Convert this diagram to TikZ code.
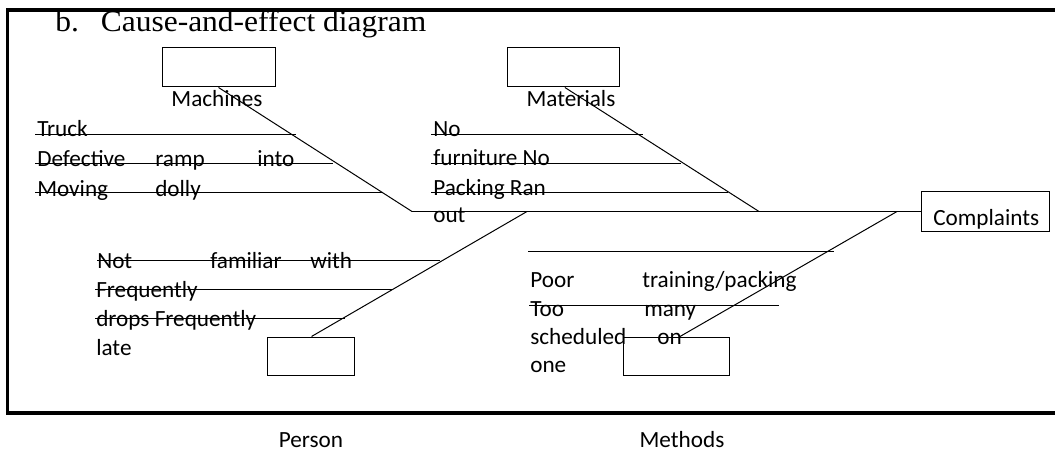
\documentclass[tikz,border=0pt]{standalone}
\usepackage{fontspec}
\setmainfont{Carlito}
\newfontfamily\titlefont{Liberation Serif}
\usetikzlibrary{calc}
\begin{document}
\begin{tikzpicture}[x=0.75pt,y=-0.75pt,
  thinline/.style={line width=0.75pt},
  box/.style={draw, line width=0.75pt, inner sep=0pt},
  word/.style={anchor=base west, inner sep=0pt, font=\fontsize{17.4}{20}\selectfont},
  catname/.style={anchor=base, inner sep=0pt, font=\fontsize{17.4}{20}\selectfont},
  titletext/.style={anchor=base west, inner sep=0pt, transform shape, xscale=1.05,
    font=\titlefont\fontsize{22.5}{27}\selectfont},
  outerframe/.style={line width=2.8pt}]
\useasboundingbox (0,0) rectangle (1055,452);

% heading, cut off along the top of the frame
\begin{scope}
  \clip (0,10.2) rectangle (1055,60);
  \node (tb) [titletext] at (55,31.5) {b.};
  \node (tt) [titletext] at (100.5,31.5) {Cause-and-effect diagram};
\end{scope}

% surrounding frame (open on the right)
\draw[outerframe] (1058,10.2) -- (7.5,10.2) -- (7.5,413.3) -- (1058,413.3);

% category boxes and the effect box
\node (mbox)   [box, minimum width=84.75pt, minimum height=29.25pt] at (218.5,67.5) {};
\node (matbox) [box, minimum width=83.5pt,  minimum height=29.25pt] at (563.4,67.5) {};
\node (pbox)   [box, minimum width=65.25pt, minimum height=28.5pt]  at (310.5,356) {};
\node (metbox) [box, minimum width=79.5pt,  minimum height=28.5pt]  at (676,356) {};
\node (cbox)   [box, minimum width=95.5pt,  minimum height=29.25pt] at (985.4,211.5) {};

% category names
\node (mlab)   [catname] at (217,107) {Machines};
\node (matlab) [catname] at (571,107) {Materials};
\node (plab)   [catname] at (311,447.5) {Person};
\node (metlab) [catname] at (682,447.5) {Methods};
\node (clab)   [word] at (933,225) {Complaints};

% spine and bones
\coordinate (jm)   at (412,211.5);
\coordinate (jmat) at (759,211.5);
\coordinate (jp)   at (527,211.5);
\coordinate (jmet) at (897,211.5);
\draw[thinline] (jm) -- (cbox.west);
\draw[thinline] (mbox.south) -- (jm);
\draw[thinline] ($(matbox.south)+(1.5,0)$) -- (jmat);
\draw[thinline] ($(pbox.north)+(1,0)$) -- (jp);
\draw[thinline] ($(metbox.north)+(4,0)$) -- (jmet);

% machine causes
\draw[thinline] (35,134.5) -- (296,134.5);
\draw[thinline] (35,163.5) -- (333,163.5);
\draw[thinline] (35,192.5) -- (383,192.5);
\node (m1)  [word] at (37,137) {Truck};
\node (m2a) [word] at (37,167) {Defective};
\node (m2b) [word] at (155,167) {ramp};
\node (m2c) [word] at (257,167) {into};
\node (m3a) [word] at (37,196.5) {Moving};
\node (m3b) [word] at (155,196.5) {dolly};

% material causes
\draw[thinline] (431,134.5) -- (643,134.5);
\draw[thinline] (431,163.5) -- (681,163.5);
\draw[thinline] (431,192.5) -- (728,192.5);
\node (a1) [word] at (433,137) {No};
\node (a2) [word] at (433,166) {furniture No};
\node (a3) [word] at (433,195.5) {Packing Ran};
\node (a4) [word] at (433,223) {out};

% person causes
\draw[thinline] (97,260) -- (440,260);
\draw[thinline] (95,289) -- (392,289);
\draw[thinline] (95,318) -- (345,318);
\node (p1a) [word] at (97,268) {Not};
\node (p1b) [word] at (210,268) {familiar};
\node (p1c) [word] at (310,268) {with};
\node (p2)  [word] at (96,297) {Frequently};
\node (p3)  [word] at (96,326) {drops Frequently};
\node (p4)  [word] at (96,355) {late};

% method causes
\draw[thinline] (528,251) -- (834,251);
\draw[thinline] (529,305) -- (779,305);
\node (e1a) [word] at (530,287) {Poor};
\node (e1b) [word] at (642,287) {training/packing};
\node (e2a) [word] at (530,316.5) {Too};
\node (e2b) [word] at (644,316.5) {many};
\node (e3a) [word] at (530,344) {scheduled};
\node (e3b) [word] at (657,344) {on};
\node (e4)  [word] at (530,372) {one};
\end{tikzpicture}
\end{document}
